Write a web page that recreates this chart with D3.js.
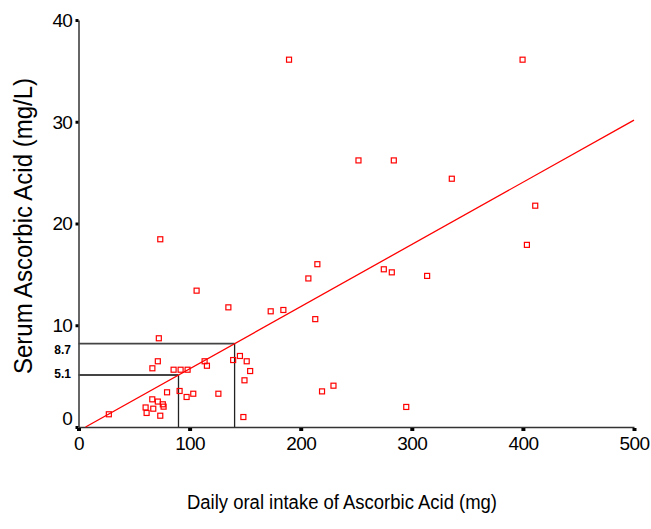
<!DOCTYPE html>
<html>
<head>
<meta charset="utf-8">
<script src="https://cdn.jsdelivr.net/npm/d3@7"></script>
<style>
  body { margin: 0; background: #fff; }
  svg { display: block; font-family: "Liberation Sans", Arial, sans-serif; }
</style>
</head>
<body>
<svg id="chart" width="651" height="529"></svg>
<script>
// intake (mg) and serum level (mg/L)
const intake = [189.5, 399.7, 252.0, 283.8, 336.0, 411.1, 403.6, 215.0, 206.9, 274.8,
  282.0, 313.8, 73.6, 106.3, 134.9, 173.0, 184.4, 213.1, 229.5, 219.2,
  148.4, 145.3, 151.4, 139.2, 154.5, 149.4, 113.5, 115.6, 125.9, 103.3,
  97.3, 91.0, 79.7, 85.6, 91.9, 98.2, 72.3, 71.4, 66.5, 27.3,
  66.4, 71.4, 75.9, 76.6, 60.4, 67.3, 61.3, 73.6, 295.0];
const serum = [36.1, 36.1, 26.2, 26.2, 24.4, 21.75, 17.9, 16.0, 14.6, 15.5,
  15.2, 14.85, 18.45, 13.4, 11.76, 11.37, 11.5, 10.6, 4.06, 3.5,
  0.98, 6.98, 6.46, 6.58, 5.5, 4.59, 6.46, 6.02, 3.27, 3.27,
  2.95, 3.54, 3.41, 5.63, 5.63, 5.63, 8.72, 6.46, 5.77, 1.25,
  2.72, 2.5, 2.23, 2.0, 1.92, 1.8, 1.38, 1.11, 1.97];

const xTicks = [0, 100, 200, 300, 400, 500];
const yTicks = [0, 10, 20, 30, 40];

// fitted line as drawn, and the two read-off guides
const fitIntercept = -0.39;
const fitSlope = 0.0611;
const guideX = [90, 140.5];
const guideLabels = ['5.1', '8.7'];

const svg = d3.select('#chart');

const x = d3.scaleLinear().domain([0, 500]).range([78.5, 634]);
const y = d3.scaleLinear().domain([0, 40]).range([427, 20]);
const fit = v => fitIntercept + fitSlope * v;

// y axis
const yAxis = svg.append('g')
  .attr('transform', `translate(${x(0)},0)`)
  .call(d3.axisLeft(y).tickValues(yTicks).tickSize(3).tickSizeOuter(0).tickPadding(3.5));
yAxis.select('.domain').attr('stroke', '#333').attr('stroke-width', 1.5);
yAxis.selectAll('.tick line').attr('stroke', '#000').attr('stroke-width', 3);
yAxis.selectAll('.tick text')
  .attr('font-size', 19).attr('letter-spacing', -0.8).attr('fill', '#000').attr('font-family', null)
  .attr('dy', d => d === 0 ? '-0.15em' : '0.34em');

// x axis
const xAxis = svg.append('g')
  .attr('transform', `translate(0,${y(0)})`)
  .call(d3.axisBottom(x).tickValues(xTicks).tickSize(4).tickSizeOuter(0).tickPadding(6));
xAxis.select('.domain').attr('stroke', '#333').attr('stroke-width', 1.5);
xAxis.selectAll('.tick line').attr('stroke', '#000').attr('stroke-width', 4).attr('y1', 1);
xAxis.selectAll('.tick text')
  .attr('font-size', 19).attr('letter-spacing', -0.6).attr('fill', '#000').attr('font-family', null);

// guides from the axes to the fitted line
const guides = svg.append('g');
guides.selectAll('line.h').data(guideX).enter().append('line')
  .attr('x1', x(0)).attr('x2', d => x(d))
  .attr('y1', d => y(fit(d))).attr('y2', d => y(fit(d)))
  .attr('stroke', '#444').attr('stroke-width', 1.8);
guides.selectAll('line.v').data(guideX).enter().append('line')
  .attr('x1', d => x(d)).attr('x2', d => x(d))
  .attr('y1', y(0)).attr('y2', d => y(fit(d)))
  .attr('stroke', '#222').attr('stroke-width', 1.3);
guides.selectAll('text').data(guideX).enter().append('text')
  .attr('x', 71)
  .attr('y', (d, i) => y(fit(d)) + (i === 0 ? -1.5 : 6))
  .attr('dy', '0.35em')
  .attr('text-anchor', 'end')
  .attr('font-size', 12).attr('font-weight', 'bold')
  .text((d, i) => guideLabels[i]);

// regression line
const x0 = -fitIntercept / fitSlope;
svg.append('line')
  .attr('x1', x(x0)).attr('y1', y(fit(x0)))
  .attr('x2', x(500)).attr('y2', y(fit(500)))
  .attr('stroke', '#f00').attr('stroke-width', 1.3);

// points
const pts = intake.map((v, i) => ({ intake: v, serum: serum[i] }));
svg.append('g').selectAll('rect').data(pts).enter().append('rect')
  .attr('x', d => x(d.intake) - 2.5)
  .attr('y', d => y(d.serum) - 2.5)
  .attr('width', 5).attr('height', 5)
  .attr('fill', 'none')
  .attr('stroke', '#f00').attr('stroke-width', 1.2);

// axis titles
svg.append('text')
  .attr('x', 342).attr('y', 509)
  .attr('text-anchor', 'middle')
  .attr('font-size', 20)
  .attr('textLength', 310).attr('lengthAdjust', 'spacingAndGlyphs')
  .text('Daily oral intake of Ascorbic Acid (mg)');

svg.append('text')
  .attr('transform', 'translate(32,226) rotate(-90)')
  .attr('text-anchor', 'middle')
  .attr('font-size', 25)
  .attr('textLength', 296).attr('lengthAdjust', 'spacingAndGlyphs')
  .text('Serum Ascorbic Acid (mg/L)');
</script>
</body>
</html>
